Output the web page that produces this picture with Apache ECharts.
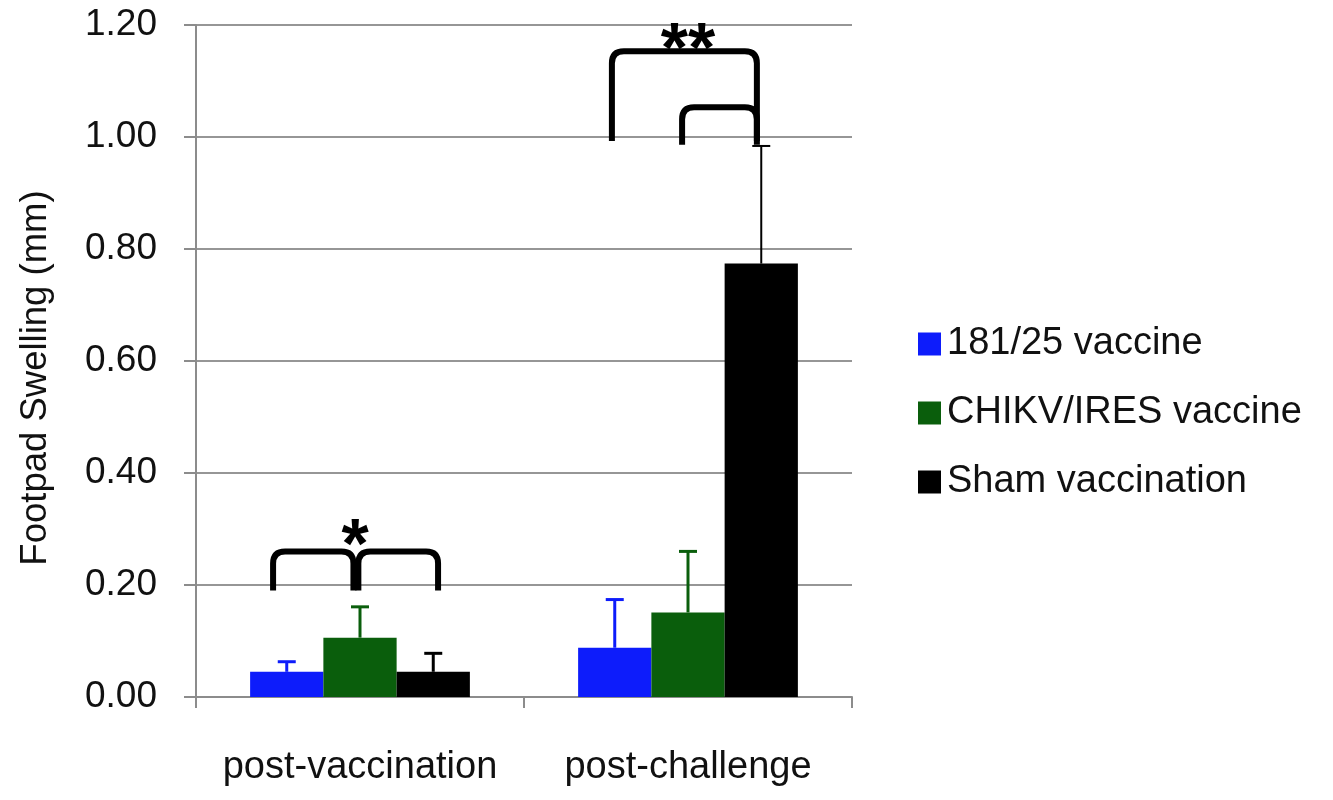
<!DOCTYPE html>
<html style="height: 100%">
<head>
<meta charset="utf-8">
</head>
<body style="height: 100%; margin: 0; background: #fff">
<div id="container" style="width: 1333px; height: 800px"></div>
<script type="text/javascript" src="https://cdn.jsdelivr.net/npm/echarts@6/dist/echarts.min.js"></script>
<script type="text/javascript">
var categories = ['post-vaccination', 'post-challenge'];
var groupNames = ['181/25 vaccine', 'CHIKV/IRES vaccine', 'Sham vaccination'];
var yTicks = [0, 0.2, 0.4, 0.6, 0.8, 1.0, 1.2];

// mean footpad swelling (mm)
var mean181 = [0.045, 0.088];
var meanIres = [0.106, 0.151];
var meanSham = [0.045, 0.774];

// top of the error bar (mean + sd)
var upper181 = [0.063, 0.174];
var upperIres = [0.161, 0.260];
var upperSham = [0.078, 0.984];

// significance brackets: [category, from, to (fraction of band), top, left foot, right foot]
var brackets = [
    [0, -0.265, -0.02, 0.26, 0.19, 0.19],
    [0, -0.005, 0.238, 0.26, 0.19, 0.19],
    [1, -0.232, 0.21, 1.153, 0.993, 0.993],
    [1, -0.018, 0.21, 1.053, 0.986, 0.986]
];
var stars = ['*', '**'];
var starPos = [[0, -0.015, 0.265], [1, 0.0, 1.15]];

var colors = ['#0d1cfb', '#0a5e0c', '#000000'];
var FONT = 'Liberation Sans, Arial, sans-serif';
var GAP = 0.33;

var dom = document.getElementById('container');
var myChart = echarts.init(dom);

var means = [mean181, meanIres, meanSham];
var uppers = [upper181, upperIres, upperSham];

var errData = [];
for (var k = 0; k < 3; k++) {
    for (var c = 0; c < categories.length; c++) {
        errData.push([c, means[k][c], uppers[k][c], k]);
    }
}

function renderError(params, api) {
    var band = api.size([1, 0])[0];
    var bw = band * (1 - GAP) / 3;
    var k = api.value(3);
    var base = api.coord([api.value(0), api.value(1)]);
    var top = api.coord([api.value(0), api.value(2)]);
    var x = base[0] + (k - 1) * bw;
    var thin = api.value(0) === 1 && k === 2;
    var st = { stroke: colors[k], lineWidth: thin ? 2 : 3 };
    return {
        type: 'group',
        children: [
            { type: 'line', shape: { x1: x, y1: base[1], x2: x, y2: top[1] }, style: st },
            { type: 'line', shape: { x1: x - 9, y1: top[1], x2: x + 9, y2: top[1] }, style: st }
        ]
    };
}

function renderBracket(params, api) {
    var band = api.size([1, 0])[0];
    var c = api.value(0);
    var center = api.coord([c, 0])[0];
    var x1 = center + api.value(1) * band;
    var x2 = center + api.value(2) * band;
    var yt = api.coord([c, api.value(3)])[1];
    var yl = api.coord([c, api.value(4)])[1];
    var yr = api.coord([c, api.value(5)])[1];
    var r = 12;
    var d = 'M' + x1 + ' ' + yl + ' L' + x1 + ' ' + (yt + r) +
        ' Q' + x1 + ' ' + yt + ' ' + (x1 + r) + ' ' + yt +
        ' L' + (x2 - r) + ' ' + yt +
        ' Q' + x2 + ' ' + yt + ' ' + x2 + ' ' + (yt + r) +
        ' L' + x2 + ' ' + yr;
    return {
        type: 'path',
        shape: { pathData: d },
        style: { stroke: '#000', lineWidth: 6, fill: null, lineJoin: 'round' }
    };
}

var starData = starPos.map(function (p, i) { return [p[0], p[1], p[2], i]; });

function renderStar(params, api) {
    var band = api.size([1, 0])[0];
    var c = api.value(0);
    var pt = api.coord([c, api.value(2)]);
    return {
        type: 'text',
        x: pt[0] + api.value(1) * band,
        y: pt[1],
        style: {
            text: stars[api.value(3)],
            font: 'bold 70px ' + FONT,
            fill: '#000',
            align: 'center',
            verticalAlign: 'middle'
        }
    };
}

var barSeries = groupNames.map(function (name, k) {
    return {
        name: name,
        type: 'bar',
        data: means[k],
        barGap: 0,
        barCategoryGap: (GAP * 100) + '%',
        itemStyle: { color: colors[k] },
        z: 2
    };
});

var option = {
    animation: false,
    backgroundColor: '#fff',
    textStyle: { fontFamily: FONT },
    grid: { left: 196, right: 481, top: 25, bottom: 103, outerBoundsMode: 'none' },
    legend: {
        data: groupNames,
        orient: 'vertical',
        left: 913,
        top: 320,
        itemGap: 31,
        itemWidth: 23,
        itemHeight: 23,
        icon: 'rect',
        textStyle: { fontSize: 38, color: '#111', fontFamily: FONT, padding: [4, 0, 0, 1] }
    },
    xAxis: {
        type: 'category',
        data: categories,
        axisLine: { show: true, lineStyle: { color: '#8c8c8c', width: 2 } },
        axisTick: { show: true, interval: 0, length: 11, lineStyle: { color: '#8c8c8c', width: 2 } },
        axisLabel: { interval: 0, hideOverlap: false, fontSize: 38, color: '#111', margin: 52, fontFamily: FONT },
        splitLine: { show: false }
    },
    yAxis: {
        type: 'value',
        min: yTicks[0],
        max: yTicks[yTicks.length - 1],
        interval: 0.2,
        name: 'Footpad Swelling (mm)',
        nameLocation: 'middle',
        nameGap: 142,
        nameRotate: 90,
        nameTextStyle: { fontSize: 36.5, color: '#111', fontFamily: FONT, padding: [0, 34, 0, 0] },
        axisLine: { show: true, lineStyle: { color: '#8c8c8c', width: 2 } },
        axisTick: { show: true, length: 12, lineStyle: { color: '#8c8c8c', width: 2 } },
        axisLabel: {
            fontSize: 37, color: '#111', margin: 39, fontFamily: FONT,
            formatter: function (v) { return v.toFixed(2); }
        },
        splitLine: { show: true, lineStyle: { color: '#969696', width: 2 } }
    },
    series: barSeries.concat([
        {
            type: 'custom',
            name: 'error',
            renderItem: renderError,
            data: errData,
            z: 3
        },
        {
            type: 'custom',
            name: 'brackets',
            renderItem: renderBracket,
            data: brackets,
            z: 4
        },
        {
            type: 'custom',
            name: 'stars',
            renderItem: renderStar,
            data: starData,
            z: 5
        }
    ])
};

myChart.setOption(option);
</script>
</body>
</html>
